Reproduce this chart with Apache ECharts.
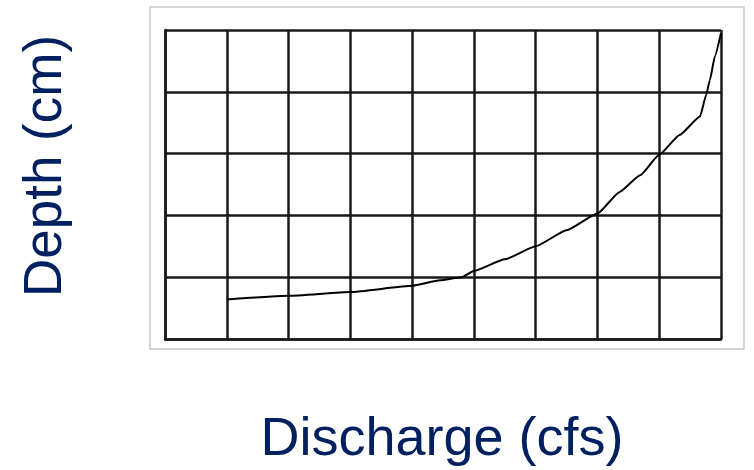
<!DOCTYPE html>
<html>
<head>
<meta charset="utf-8">
<script src="https://cdn.jsdelivr.net/npm/echarts@6/dist/echarts.min.js"></script>
<style>html,body{margin:0;padding:0;background:#fff;}#c{width:754px;height:470px;}</style>
</head>
<body>
<div id="c"></div>
<script>
// Data (grid units: 9 columns x 5 rows)
const dischargeValues = [1, 2, 3, 4, 4.45, 4.8, 5, 5.5, 6, 6.5, 7, 7.36, 7.69, 8, 8.33, 8.66, 8.76, 8.82, 8.9, 9];
const depthValues     = [0.64, 0.70, 0.76, 0.86, 0.95, 1.0, 1.10, 1.29, 1.50, 1.76, 2.03, 2.38, 2.65, 2.98, 3.30, 3.60, 3.95, 4.19, 4.57, 4.95];
const xTitle = 'Discharge (cfs)';
const yTitle = 'Depth (cm)';

const chart = echarts.init(document.getElementById('c'), null, {renderer: 'canvas'});
const titleColor = '#002060';
const gridLine = {show: true, lineStyle: {color: '#1a1a1a', width: 2.5}};

chart.setOption({
  animation: false,
  backgroundColor: '#fff',
  grid: {left: 165, top: 30, width: 556, height: 309, show: false},
  xAxis: {
    type: 'value', min: 0, max: 9, interval: 1,
    axisLine: {show: true, lineStyle: {color: '#1a1a1a', width: 2.5}},
    axisTick: {show: false}, axisLabel: {show: false},
    splitLine: gridLine
  },
  yAxis: {
    type: 'value', min: 0, max: 5, interval: 1,
    axisLine: {show: true, lineStyle: {color: '#1a1a1a', width: 2.5}},
    axisTick: {show: false}, axisLabel: {show: false},
    splitLine: gridLine
  },
  graphic: [
    {type: 'rect', z: -10, silent: true, shape: {x: 150, y: 7, width: 594, height: 342},
     style: {fill: '#fff', stroke: '#c8c8c8', lineWidth: 1.5}},
    {type: 'text', x: 442, y: 440, silent: true,
     style: {text: xTitle, fill: titleColor, font: '54px "Liberation Sans", Arial, sans-serif', align: 'center', verticalAlign: 'middle'}},
    {type: 'text', x: 46, y: 166, rotation: Math.PI / 2, silent: true,
     style: {text: yTitle, fill: titleColor, font: '53px "Liberation Sans", Arial, sans-serif', align: 'center', verticalAlign: 'middle'}}
  ],
  series: [{
    type: 'line',
    data: dischargeValues.map((x, i) => [x, depthValues[i]]),
    showSymbol: false,
    smooth: 0.15,
    smoothMonotone: 'x',
    lineStyle: {color: '#000', width: 2},
    z: 5
  }]
});
</script>
</body>
</html>
